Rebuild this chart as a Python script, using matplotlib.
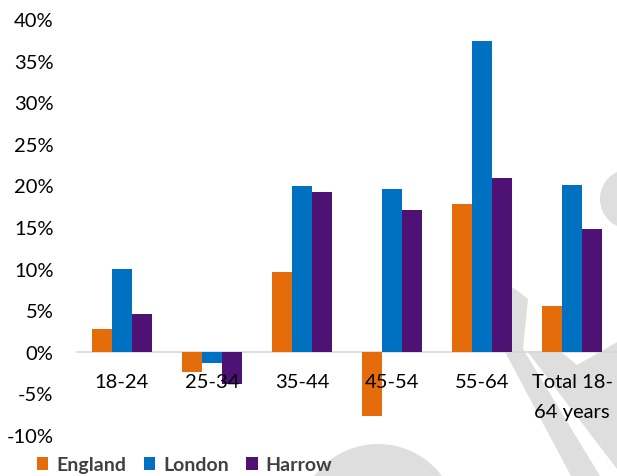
import matplotlib
matplotlib.use('Agg')
import matplotlib.pyplot as plt
from matplotlib.patches import Polygon, Circle, Patch
from matplotlib.transforms import Affine2D
from matplotlib.ticker import FuncFormatter, MultipleLocator
import numpy as np

plt.rcParams['font.family'] = ['Lato', 'DejaVu Sans']

# data
age_groups = ['18-24', '25-34', '35-44', '45-54', '55-64', 'Total 18-\n64 years']
england = [2.8, -2.4, 9.6, -7.7, 17.8, 5.5]
london = [9.9, -1.3, 19.9, 19.6, 37.3, 20.0]
harrow = [4.5, -3.9, 19.2, 17.0, 20.9, 14.7]

series = [('England', england, '#E46C0A'),
          ('London', london, '#0070C0'),
          ('Harrow', harrow, '#4E1275')]

W, H = 617, 477
fig = plt.figure(figsize=(W / 100, H / 100), dpi=100)
ax = fig.add_axes([77 / W, 1 - 436 / H, 540 / W, 416 / H])
ax.patch.set_visible(False)
ax.set_axisbelow(False)  # tick labels over the bars, like the original

# faint watermark behind the chart (pixel coords, origin top-left)
px = Affine2D().scale(1 / W, -1 / H).translate(0, 1) + fig.transFigure
wm = '#DEDEDE'
shapes = [
    Circle((630, 200), 30),
    Polygon([(462, 272), (515, 290), (528, 300), (523, 350), (600, 477), (571, 477)]),
    Polygon([(527, 352), (560, 352), (577, 366), (600, 353), (617, 343), (617, 470)]),
    Circle((378, 525), 80),
]
for s in shapes:
    s.set_transform(px)
    s.set_facecolor(wm)
    s.set_edgecolor('none')
    s.set_zorder(-1)
    fig.add_artist(s)

x = np.arange(len(age_groups))
bw = 0.222
for i, (name, vals, col) in enumerate(series):
    ax.bar(x + (i - 1) * bw, vals, width=bw, color=col, label=name, zorder=2)

ax.set_xlim(-0.5, 5.5)
ax.set_ylim(-10, 40)
ax.yaxis.set_major_locator(MultipleLocator(5))
ax.yaxis.set_major_formatter(FuncFormatter(lambda v, p: f'{v:.0f}%'))
ax.set_xticks(x)
ax.set_xticklabels(age_groups)

for side in ['top', 'right', 'left']:
    ax.spines[side].set_visible(False)
ax.spines['bottom'].set_position(('data', 0))
ax.spines['bottom'].set_color('#D9D9D9')
ax.spines['bottom'].set_linewidth(1.2)
ax.spines['bottom'].set_zorder(1)

ax.tick_params(axis='both', length=0, labelsize=14.5, colors='black')
ax.tick_params(axis='y', pad=17)
ax.tick_params(axis='x', pad=15)
for tick in ax.xaxis.get_major_ticks():
    tick.label1.set_linespacing(1.95)

handles = [Patch(facecolor=c, label=n) for n, _, c in series]
leg = fig.legend(handles=handles, loc='center left', bbox_to_anchor=(27 / W, 1 - 466 / H),
                 ncol=3, frameon=False, handlelength=0.6, handleheight=0.6,
                 handletextpad=0.4, columnspacing=0.9, borderpad=0,
                 prop={'size': 14, 'weight': 'bold'})
for t in leg.get_texts():
    t.set_color('#404040')

fig.savefig('out.png', dpi=100)
